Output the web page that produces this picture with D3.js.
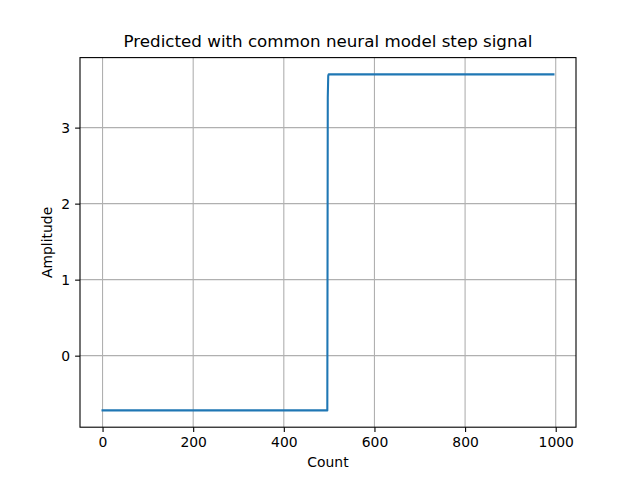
<!DOCTYPE html>
<html>
<head>
<meta charset="utf-8">
<script src="https://cdn.jsdelivr.net/npm/d3@7"></script>
<style>
  body { margin: 0; background: #fff; }
  text { font-family: "DejaVu Sans", sans-serif; }
</style>
</head>
<body>
<div id="chart"></div>
<script>
// Set up figure like a matplotlib 640x480 figure
const svgWidth = 640;
const svgHeight = 480;

const margin = {
  top: 57.6,
  right: 64,
  bottom: 52.8,
  left: 80
};

const width = svgWidth - margin.left - margin.right;
const height = svgHeight - margin.top - margin.bottom;

// Data: the step response (piecewise constant, so only the corner samples)
const counts = [0, 496, 497, 498, 499, 995];
const amplitudes = [-0.72, -0.72, 3.40, 3.68, 3.70, 3.70];
const xTicks = [0, 200, 400, 600, 800, 1000];
const yTicks = [0, 1, 2, 3];

const data = counts.map((c, i) => ({ count: c, amp: amplitudes[i] }));

let svg = d3.select("#chart")
  .append("svg")
  .attr("width", svgWidth)
  .attr("height", svgHeight);

const chartGroup = svg.append("g")
  .attr("transform", `translate(${margin.left}, ${margin.top})`);

// 5% padding like matplotlib autoscale
function padded(ext) {
  const pad = (ext[1] - ext[0]) * 0.05;
  return [ext[0] - pad, ext[1] + pad];
}

const xScale = d3.scaleLinear()
  .domain(padded(d3.extent(counts)))
  .range([0, width]);

const yScale = d3.scaleLinear()
  .domain(padded(d3.extent(amplitudes)))
  .range([height, 0]);

// grid
chartGroup.append("g")
  .selectAll("line")
  .data(xTicks)
  .join("line")
  .attr("x1", d => xScale(d)).attr("x2", d => xScale(d))
  .attr("y1", 0).attr("y2", height)
  .attr("stroke", "#b0b0b0").attr("stroke-width", 1.1);

chartGroup.append("g")
  .selectAll("line")
  .data(yTicks)
  .join("line")
  .attr("y1", d => yScale(d)).attr("y2", d => yScale(d))
  .attr("x1", 0).attr("x2", width)
  .attr("stroke", "#b0b0b0").attr("stroke-width", 1.1);

// line
const line = d3.line()
  .x(d => xScale(d.count))
  .y(d => yScale(d.amp));

chartGroup.append("path")
  .datum(data)
  .attr("fill", "none")
  .attr("stroke", "#1f77b4")
  .attr("stroke-width", 2.08)
  .attr("stroke-linejoin", "round")
  .attr("stroke-linecap", "square")
  .attr("d", line);

// axes
const bottomAxis = d3.axisBottom(xScale).tickValues(xTicks).tickFormat(d3.format("d"))
  .tickSize(4.9).tickPadding(4.9).tickSizeOuter(0);
const leftAxis = d3.axisLeft(yScale).tickValues(yTicks).tickFormat(d3.format("d"))
  .tickSize(4.9).tickPadding(4.9).tickSizeOuter(0);

const xAxis = chartGroup.append("g")
  .attr("transform", `translate(0, ${height})`)
  .call(bottomAxis);

const yAxis = chartGroup.append("g")
  .call(leftAxis);

[xAxis, yAxis].forEach(a => {
  a.select(".domain").remove();
  a.selectAll("line").attr("stroke", "#000").attr("stroke-width", 1.1);
  a.selectAll("text").attr("font-size", "13.9px").attr("fill", "#000")
    .attr("font-family", "DejaVu Sans, sans-serif");
});

// spines
chartGroup.append("rect")
  .attr("x", 0).attr("y", 0)
  .attr("width", width).attr("height", height)
  .attr("fill", "none")
  .attr("stroke", "#000")
  .attr("stroke-width", 1.1);

// title and labels
svg.append("text")
  .attr("x", margin.left + width / 2)
  .attr("y", 47)
  .attr("text-anchor", "middle")
  .attr("font-size", "16.7px")
  .text("Predicted with common neural model step signal");

svg.append("text")
  .attr("x", margin.left + width / 2)
  .attr("y", 467)
  .attr("text-anchor", "middle")
  .attr("font-size", "13.9px")
  .text("Count");

svg.append("text")
  .attr("transform", `translate(52, ${margin.top + height / 2}) rotate(-90)`)
  .attr("text-anchor", "middle")
  .attr("font-size", "13.9px")
  .text("Amplitude");
</script>
</body>
</html>
